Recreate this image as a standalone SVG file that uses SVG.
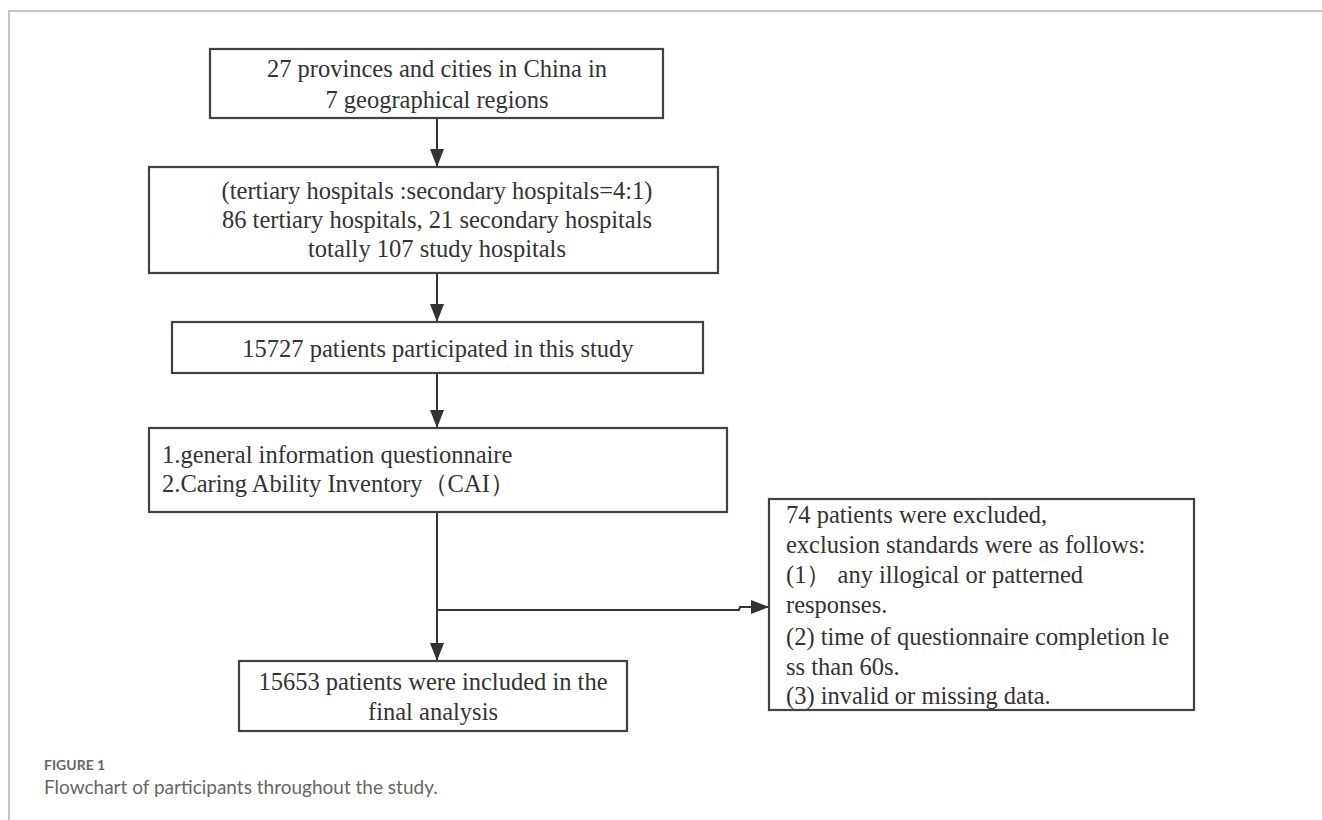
<svg xmlns="http://www.w3.org/2000/svg" width="1322" height="820" viewBox="0 0 1322 820">
<style>
.box{fill:#fff;stroke:#3f4247;stroke-width:2.2}
.t{font-family:"Liberation Serif","Times New Roman",serif;font-size:24.5px;fill:#333}
.c{text-anchor:middle}
.ln{fill:none;stroke:#333;stroke-width:2}
.cap{font-family:Lato,"Open Sans",sans-serif;fill:#666}
</style>
<defs>
<marker id="ah" viewBox="0 0 18 14" refX="18" refY="7" markerWidth="18" markerHeight="14" markerUnits="userSpaceOnUse" orient="auto">
<path d="M0,0 L18,7 L0,14 Z" fill="#333"/>
</marker>
</defs>
<rect width="1322" height="820" fill="#fff"/>
<path d="M9,820 V11 H1322" fill="none" stroke="#b0b0b0" stroke-width="1.5"/>
<g id="connectors">
<line class="ln" x1="437" y1="118" x2="437" y2="167" marker-end="url(#ah)"/>
<line class="ln" x1="437" y1="273" x2="437" y2="322" marker-end="url(#ah)"/>
<line class="ln" x1="437" y1="373" x2="437" y2="428" marker-end="url(#ah)"/>
<line class="ln" x1="437" y1="512" x2="437" y2="661" marker-end="url(#ah)"/>
<path class="ln" d="M437,610 H739 L740,607 H769" marker-end="url(#ah)"/>
</g>
<g id="n1">
<rect class="box" x="210" y="49" width="453" height="69"/>
<text class="t c" x="437" y="77">27 provinces and cities in China in</text>
<text class="t c" x="437" y="108">7 geographical regions</text>
</g>
<g id="n2">
<rect class="box" x="149" y="167" width="569" height="106"/>
<text class="t c" x="437" y="199">(tertiary hospitals :secondary hospitals=4:1)</text>
<text class="t c" x="437" y="228">86 tertiary hospitals, 21 secondary hospitals</text>
<text class="t c" x="437" y="257">totally 107 study hospitals</text>
</g>
<g id="n3">
<rect class="box" x="172" y="322" width="531" height="51"/>
<text class="t c" x="438" y="357">15727 patients participated in this study</text>
</g>
<g id="n4">
<rect class="box" x="149" y="428" width="578" height="84"/>
<text class="t" x="162" y="463">1.general information questionnaire</text>
<text class="t" x="162" y="492">2.Caring Ability Inventory（CAI）</text>
</g>
<g id="n5">
<rect class="box" x="239" y="661" width="388" height="70"/>
<text class="t c" x="433" y="690">15653 patients were included in the</text>
<text class="t c" x="433" y="720">final analysis</text>
</g>
<g id="n6">
<rect class="box" x="769" y="499" width="425" height="211"/>
<text class="t" x="786" y="523">74 patients were excluded,</text>
<text class="t" x="786" y="553">exclusion standards were as follows:</text>
<text class="t" x="786" y="583">(1） any illogical or patterned</text>
<text class="t" x="786" y="613">responses.</text>
<text class="t" x="786" y="645">(2) time of questionnaire completion le</text>
<text class="t" x="786" y="675">ss than 60s.</text>
<text class="t" x="786" y="704">(3) invalid or missing data.</text>
</g>
<text class="cap" x="44" y="770" font-size="14" font-weight="bold" fill="#888">FIGURE 1</text>
<text class="cap" x="44" y="794" font-size="19">Flowchart of participants throughout the study.</text>
</svg>
